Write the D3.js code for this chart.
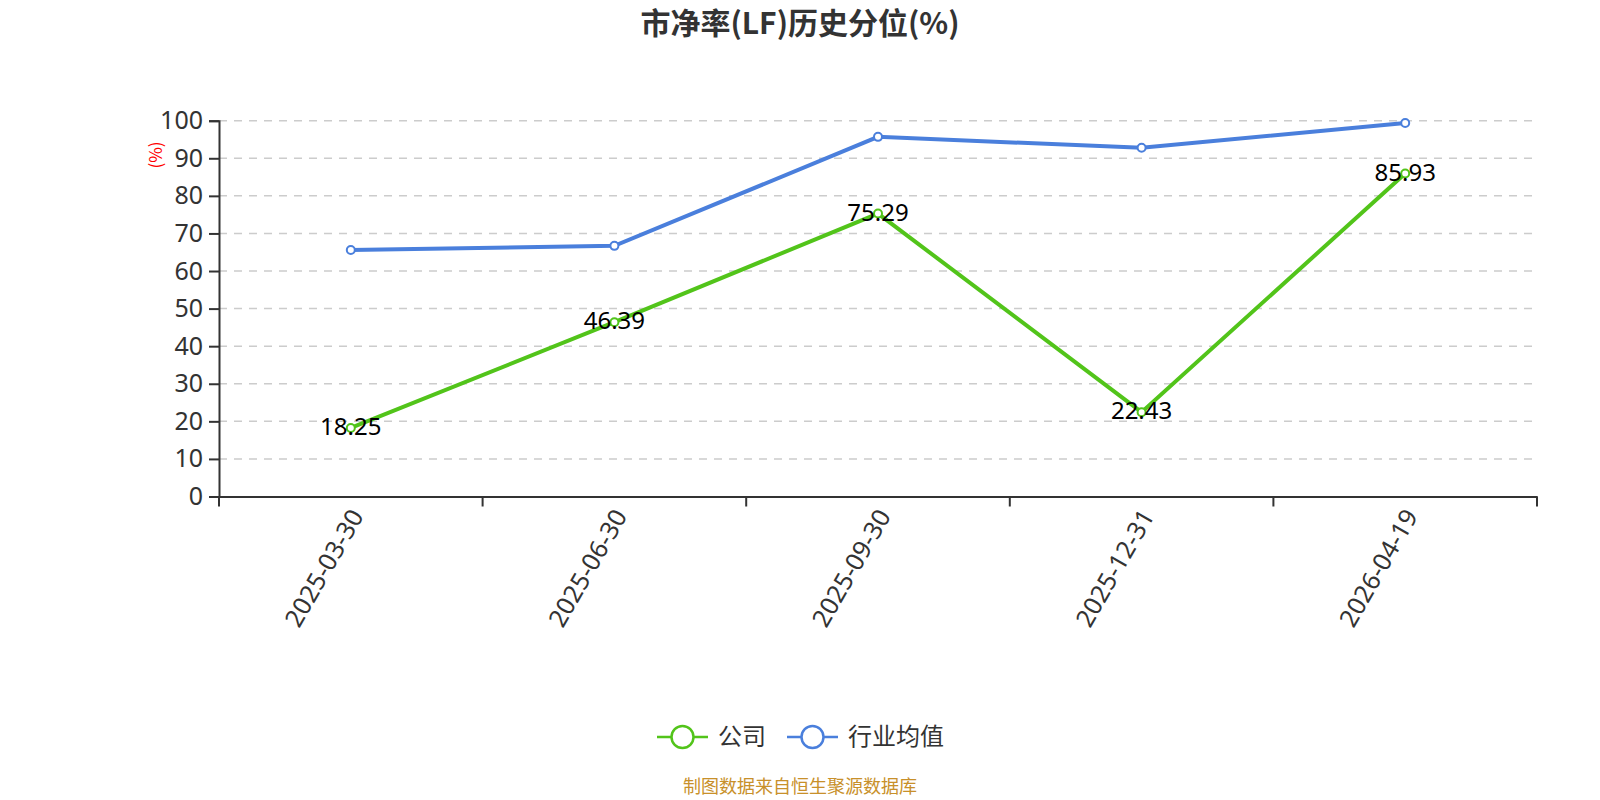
<!DOCTYPE html>
<html>
<head>
<meta charset="utf-8">
<script src="https://cdn.jsdelivr.net/npm/d3@7"></script>
<style>
  body { margin: 0; background: #fff; }
  text { font-family: "Noto Sans CJK SC", "Noto Sans", sans-serif; }
</style>
</head>
<body>
<svg id="chart" width="1600" height="800"></svg>
<script>
// chart data
const dates = ["2025-03-30", "2025-06-30", "2025-09-30", "2025-12-31", "2026-04-19"];
const company = [18.25, 46.39, 75.29, 22.43, 85.93];
const industry = [65.6, 66.7, 95.7, 92.8, 99.4];
const yTicks = [0, 10, 20, 30, 40, 50, 60, 70, 80, 90, 100];
const seriesNames = ["公司", "行业均值"];
const colors = ["#52c41a", "#4a7fdc"];

const svg = d3.select("#chart");
const plotLeft = 219, plotRight = 1537, plotTop = 120.7, plotBottom = 496.5;
const numFont = "'Noto Sans', sans-serif";

const x = d3.scaleBand().domain(dates).range([plotLeft, plotRight]);
const y = d3.scaleLinear().domain([0, 100]).range([plotBottom, plotTop]);

// title
svg.append("text")
    .attr("x", 800).attr("y", 34)
    .attr("text-anchor", "middle")
    .style("font-size", "30px").style("font-weight", "bold").style("fill", "#333")
    .text("市净率(LF)历史分位(%)");

// grid lines
svg.append("g").selectAll("line")
    .data(yTicks.filter(d => d > 0))
    .enter().append("line")
    .attr("x1", plotLeft).attr("x2", plotRight)
    .attr("y1", d => y(d)).attr("y2", d => y(d))
    .style("stroke", "#ccc").style("stroke-width", 1.5)
    .style("stroke-dasharray", "8,7");

// y axis
const yAxis = svg.append("g")
    .attr("transform", `translate(${plotLeft},0)`)
    .call(d3.axisLeft(y).tickValues(yTicks).tickSize(10).tickPadding(6));
yAxis.select(".domain").style("stroke", "#333").style("stroke-width", 2);
yAxis.selectAll(".tick line").style("stroke", "#333").style("stroke-width", 2);
yAxis.selectAll(".tick text").style("font-size", "25px").style("fill", "#333")
    .style("font-family", numFont);

svg.append("text")
    .attr("transform", "translate(156,155) rotate(-90)")
    .attr("text-anchor", "middle").attr("dy", "0.35em")
    .style("font-size", "17px").style("fill", "red")
    .text("(%)");

// x axis
const xAxis = svg.append("g")
    .attr("transform", `translate(0,${plotBottom})`)
    .call(d3.axisBottom(x).tickSize(0).tickPadding(0));
xAxis.select(".domain").style("stroke", "#333").style("stroke-width", 2);
xAxis.selectAll(".tick text")
    .style("font-size", "25px").style("fill", "#333")
    .style("font-family", numFont)
    .attr("text-anchor", "end")
    .attr("y", 0)
    .attr("dy", "0.35em")
    .attr("transform", "translate(6,15) rotate(-60)");

// band boundary ticks
const bounds = dates.map(d => x(d)).concat([plotRight]);
svg.append("g").selectAll("line")
    .data(bounds)
    .enter().append("line")
    .attr("x1", d => d).attr("x2", d => d)
    .attr("y1", plotBottom).attr("y2", plotBottom + 10)
    .style("stroke", "#333").style("stroke-width", 2);

const cx = d => x(d) + x.bandwidth() / 2;
const line = d3.line().x((d, i) => cx(dates[i])).y(d => y(d));

[industry, company].forEach((vals, k) => {
    const c = k === 0 ? colors[1] : colors[0];
    svg.append("path")
        .datum(vals)
        .attr("d", line)
        .style("fill", "none").style("stroke", c).style("stroke-width", 4);
    svg.append("g").selectAll("circle")
        .data(vals)
        .enter().append("circle")
        .attr("cx", (d, i) => cx(dates[i])).attr("cy", d => y(d))
        .attr("r", 4)
        .style("fill", "#fff").style("stroke", c).style("stroke-width", 2);
});

// labels for company series
svg.append("g").selectAll("text")
    .data(company)
    .enter().append("text")
    .attr("x", (d, i) => cx(dates[i])).attr("y", d => y(d) + 7)
    .attr("text-anchor", "middle")
    .style("font-size", "24px").style("fill", "#000")
    .style("font-family", numFont)
    .text(d => d.toFixed(2));

// legend
const legend = svg.append("g");
const legendItems = [
    { name: seriesNames[0], color: colors[0], x: 657 },
    { name: seriesNames[1], color: colors[1], x: 787 }
];
legendItems.forEach(it => {
    const g = legend.append("g").attr("transform", `translate(${it.x},737)`);
    g.append("line").attr("x1", 0).attr("x2", 51)
        .style("stroke", it.color).style("stroke-width", 2.5);
    g.append("circle").attr("cx", 25.5).attr("r", 11)
        .style("fill", "#fff").style("stroke", it.color).style("stroke-width", 2.5);
    g.append("text").attr("x", 61).attr("dy", "0.35em")
        .style("font-size", "24px").style("fill", "#333")
        .text(it.name);
});

// source
svg.append("text")
    .attr("x", 800).attr("y", 787).attr("dy", "0.35em")
    .attr("text-anchor", "middle")
    .style("font-size", "18px").style("fill", "#c8902a")
    .text("制图数据来自恒生聚源数据库");
</script>
</body>
</html>
